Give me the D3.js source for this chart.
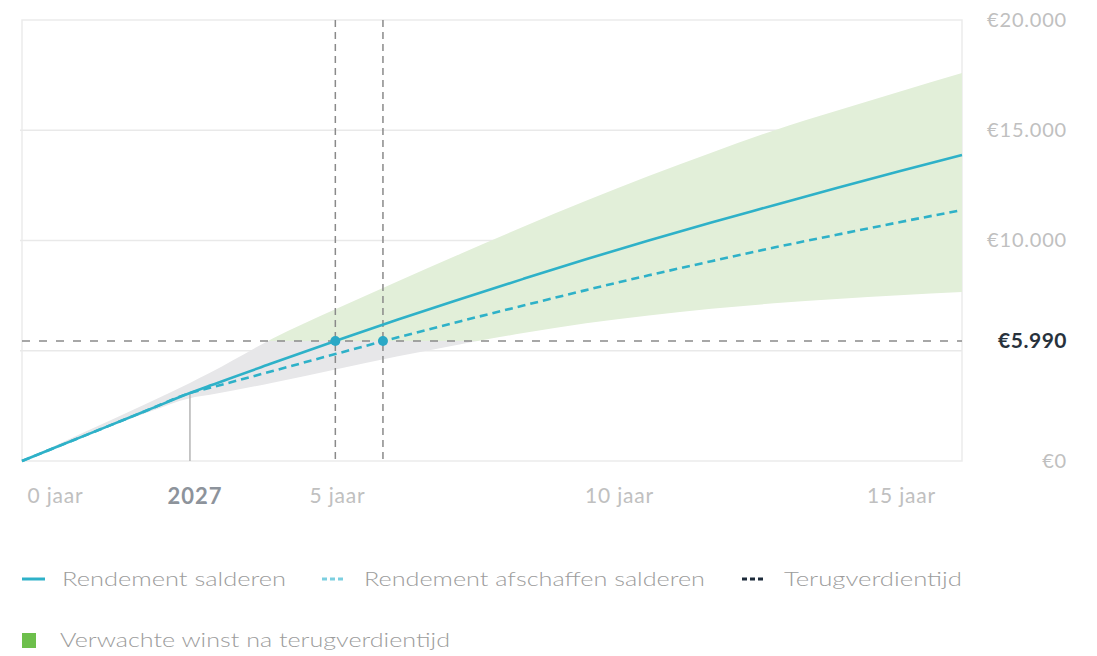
<!DOCTYPE html>
<html><head><meta charset="utf-8">
<script src="https://cdn.jsdelivr.net/npm/d3@7"></script>
<style>body{margin:0;background:#fff} text{font-family:Lato,"Open Sans",sans-serif}</style>
</head><body><svg id="c" width="1097" height="656"></svg>
<script>
// ---- data ----
const years               = [0, 1, 2, 2.68, 3, 4, 5, 6, 7, 8, 9, 10, 11, 12, 13, 14, 15];
const rendementSalderen   = [0, 1150, 2300, 3080, 3420, 4440, 5440, 6420, 7350, 8260, 9150, 10000, 10820, 11600, 12380, 13140, 13880];
const rendementAfschaffen = [0, 1150, 2300, 3080, 3320, 4080, 4850, 5610, 6340, 7050, 7750, 8420, 9060, 9680, 10260, 10830, 11380];
const bandLower           = [0, 1120, 2200, 2850, 3000, 3550, 4150, 4750, 5300, 5800, 6250, 6600, 6900, 7150, 7350, 7520, 7660];
const bandUpper           = [0, 1310, 2620, 3540, 4000, 5550, 6880, 8150, 9400, 10620, 11800, 12920, 13980, 14990, 15880, 16750, 17600];
const gridValues   = [5000, 10000, 15000];
const yLabelValues = [0, 10000, 15000, 20000];
const yLabelTexts  = ["€0", "€10.000", "€15.000", "€20.000"];
const xTickValues  = [0, 5, 10, 15];
const xTickLabels  = ["0 jaar", "5 jaar", "10 jaar", "15 jaar"];
const markerYear = 2.68, markerLabel = "2027";
const paybackValue = 5440, paybackLabel = "€5.990";
const paybackYears = [5.0, 5.76];
const legendItems = ["Rendement salderen", "Rendement afschaffen salderen", "Terugverdientijd"];
const legendArea = "Verwachte winst na terugverdientijd";

// ---- layout ----
const L = 22, R = 962, T = 20, B = 461;
const TEAL = "#2eb1c8", GREYTXT = "#c0c0c0";
const svg = d3.select("#c");
svg.append("rect").attr("width",1097).attr("height",656).attr("fill","#fff");

const x = d3.scaleLinear().domain([0,15]).range([L,R]);
const xl = d3.scaleLinear().domain([0,15]).range([55,901]);
const y = d3.scaleLinear().domain([0,20000]).range([B,T]);

// frame & grid
svg.append("rect").attr("x",L).attr("y",T).attr("width",R-L).attr("height",B-T)
  .attr("fill","none").attr("stroke","#ebebeb").attr("stroke-width",1.5);
svg.append("g").selectAll("line").data(gridValues).join("line")
  .attr("x1",L-2).attr("x2",R).attr("y1",d=>y(d)).attr("y2",d=>y(d))
  .attr("stroke","#e9e9e9").attr("stroke-width",1.5);

// band
const pts = years.map((t,i)=>({t, lo:bandLower[i], hi:bandUpper[i], s:rendementSalderen[i], a:rendementAfschaffen[i]}));
const area = d3.area().x(d=>x(d.t)).y0(d=>y(d.lo)).y1(d=>y(d.hi)).curve(d3.curveMonotoneX);
const defs = svg.append("defs");
defs.append("clipPath").attr("id","above").append("rect").attr("x",L).attr("y",T).attr("width",R-L).attr("height",y(paybackValue)-T);
defs.append("clipPath").attr("id","below").append("rect").attr("x",L).attr("y",y(paybackValue)).attr("width",R-L).attr("height",B-y(paybackValue));
svg.append("path").datum(pts).attr("d",area).attr("fill","#e2efd9").attr("clip-path","url(#above)");
svg.append("path").datum(pts).attr("d",area).attr("fill","#e7e7e9").attr("clip-path","url(#below)");

// 2027 marker
const line = k => d3.line().x(d=>x(d.t)).y(d=>y(d[k])).curve(d3.curveMonotoneX);
svg.append("line").attr("x1",x(markerYear)).attr("x2",x(markerYear))
  .attr("y1",B).attr("y2",y(rendementSalderen[years.indexOf(markerYear)]))
  .attr("stroke","#b5b5b5").attr("stroke-width",1.5);

// payback guides
svg.append("line").attr("x1",L).attr("x2",R).attr("y1",y(paybackValue)).attr("y2",y(paybackValue))
  .attr("stroke","#8a8a8a").attr("stroke-width",1.5).attr("stroke-dasharray","8,9");
svg.append("g").selectAll("line").data(paybackYears).join("line")
  .attr("x1",d=>x(d)).attr("x2",d=>x(d)).attr("y1",T).attr("y2",B)
  .attr("stroke","#8a8a8a").attr("stroke-width",1.5).attr("stroke-dasharray","7,5");

// series
svg.append("path").datum(pts).attr("d",line("a")).attr("fill","none")
  .attr("stroke",TEAL).attr("stroke-width",2.6).attr("stroke-dasharray","8,5");
svg.append("path").datum(pts).attr("d",line("s")).attr("fill","none")
  .attr("stroke",TEAL).attr("stroke-width",2.6);

// payback dots
svg.append("g").selectAll("circle").data(paybackYears).join("circle")
  .attr("cx",d=>x(d)).attr("cy",y(paybackValue)).attr("r",5).attr("fill","#2aa8c6");

// y axis labels (right)
const yAxis = svg.append("g").attr("transform",`translate(1067,0)`)
  .call(d3.axisRight(y).tickValues(yLabelValues).tickSize(0).tickFormat((d,i)=>yLabelTexts[i]));
yAxis.select(".domain").remove();
yAxis.selectAll("text").attr("x",0).attr("text-anchor","end").attr("fill",GREYTXT)
  .style("font-size","20px").style("letter-spacing","0.8px").style("font-family","Lato,'Open Sans',sans-serif");
svg.append("text").attr("x",1067).attr("y",y(paybackValue)).attr("dy","0.35em")
  .attr("text-anchor","end").attr("fill","#28323c").attr("font-weight","bold")
  .style("font-size","21px").style("letter-spacing","0.5px").text(paybackLabel);

// x axis labels
const xAxis = svg.append("g").attr("transform",`translate(0,496)`)
  .call(d3.axisBottom(xl).tickValues(xTickValues).tickSize(0).tickFormat((d,i)=>xTickLabels[i]));
xAxis.select(".domain").remove();
xAxis.selectAll("text").attr("y",0).attr("dy","0.35em").attr("fill",GREYTXT)
  .style("font-size","21px").style("letter-spacing","0.8px").style("font-family","Lato,'Open Sans',sans-serif");
svg.append("text").attr("x",195).attr("y",496).attr("dy","0.35em").attr("text-anchor","middle")
  .attr("fill","#8d939b").attr("font-weight","bold").style("font-size","22px").style("letter-spacing","1px").text(markerLabel);

// legend
const lg = svg.append("g");
const LEGTXT = "#9c9c9c";
const row1 = 579;
const items = [
  {x0:22, tx:62, w:224, stroke:TEAL, dash:null},
  {x0:322, tx:364, w:341, stroke:"#7ccfe0", dash:"5,3"},
  {x0:742, tx:784, w:178, stroke:"#1d2b3a", dash:"5,3"}
];
items.forEach((it,i)=>{
  lg.append("line").attr("x1",it.x0).attr("x2",it.x0+23).attr("y1",row1).attr("y2",row1)
    .attr("stroke",it.stroke).attr("stroke-width",3).attr("stroke-dasharray",it.dash);
  lg.append("text").attr("x",it.tx).attr("y",row1).attr("dy","0.35em").attr("fill",LEGTXT)
    .attr("textLength",it.w).attr("lengthAdjust","spacingAndGlyphs")
    .style("font-size","20px").style("font-weight","300").text(legendItems[i]);
});
lg.append("rect").attr("x",22).attr("y",633).attr("width",14).attr("height",15).attr("fill","#6dbf4b");
lg.append("text").attr("x",60).attr("y",640).attr("dy","0.35em").attr("fill",LEGTXT)
  .attr("textLength",390).attr("lengthAdjust","spacingAndGlyphs")
  .style("font-size","20px").style("font-weight","300").text(legendArea);
</script></body></html>
